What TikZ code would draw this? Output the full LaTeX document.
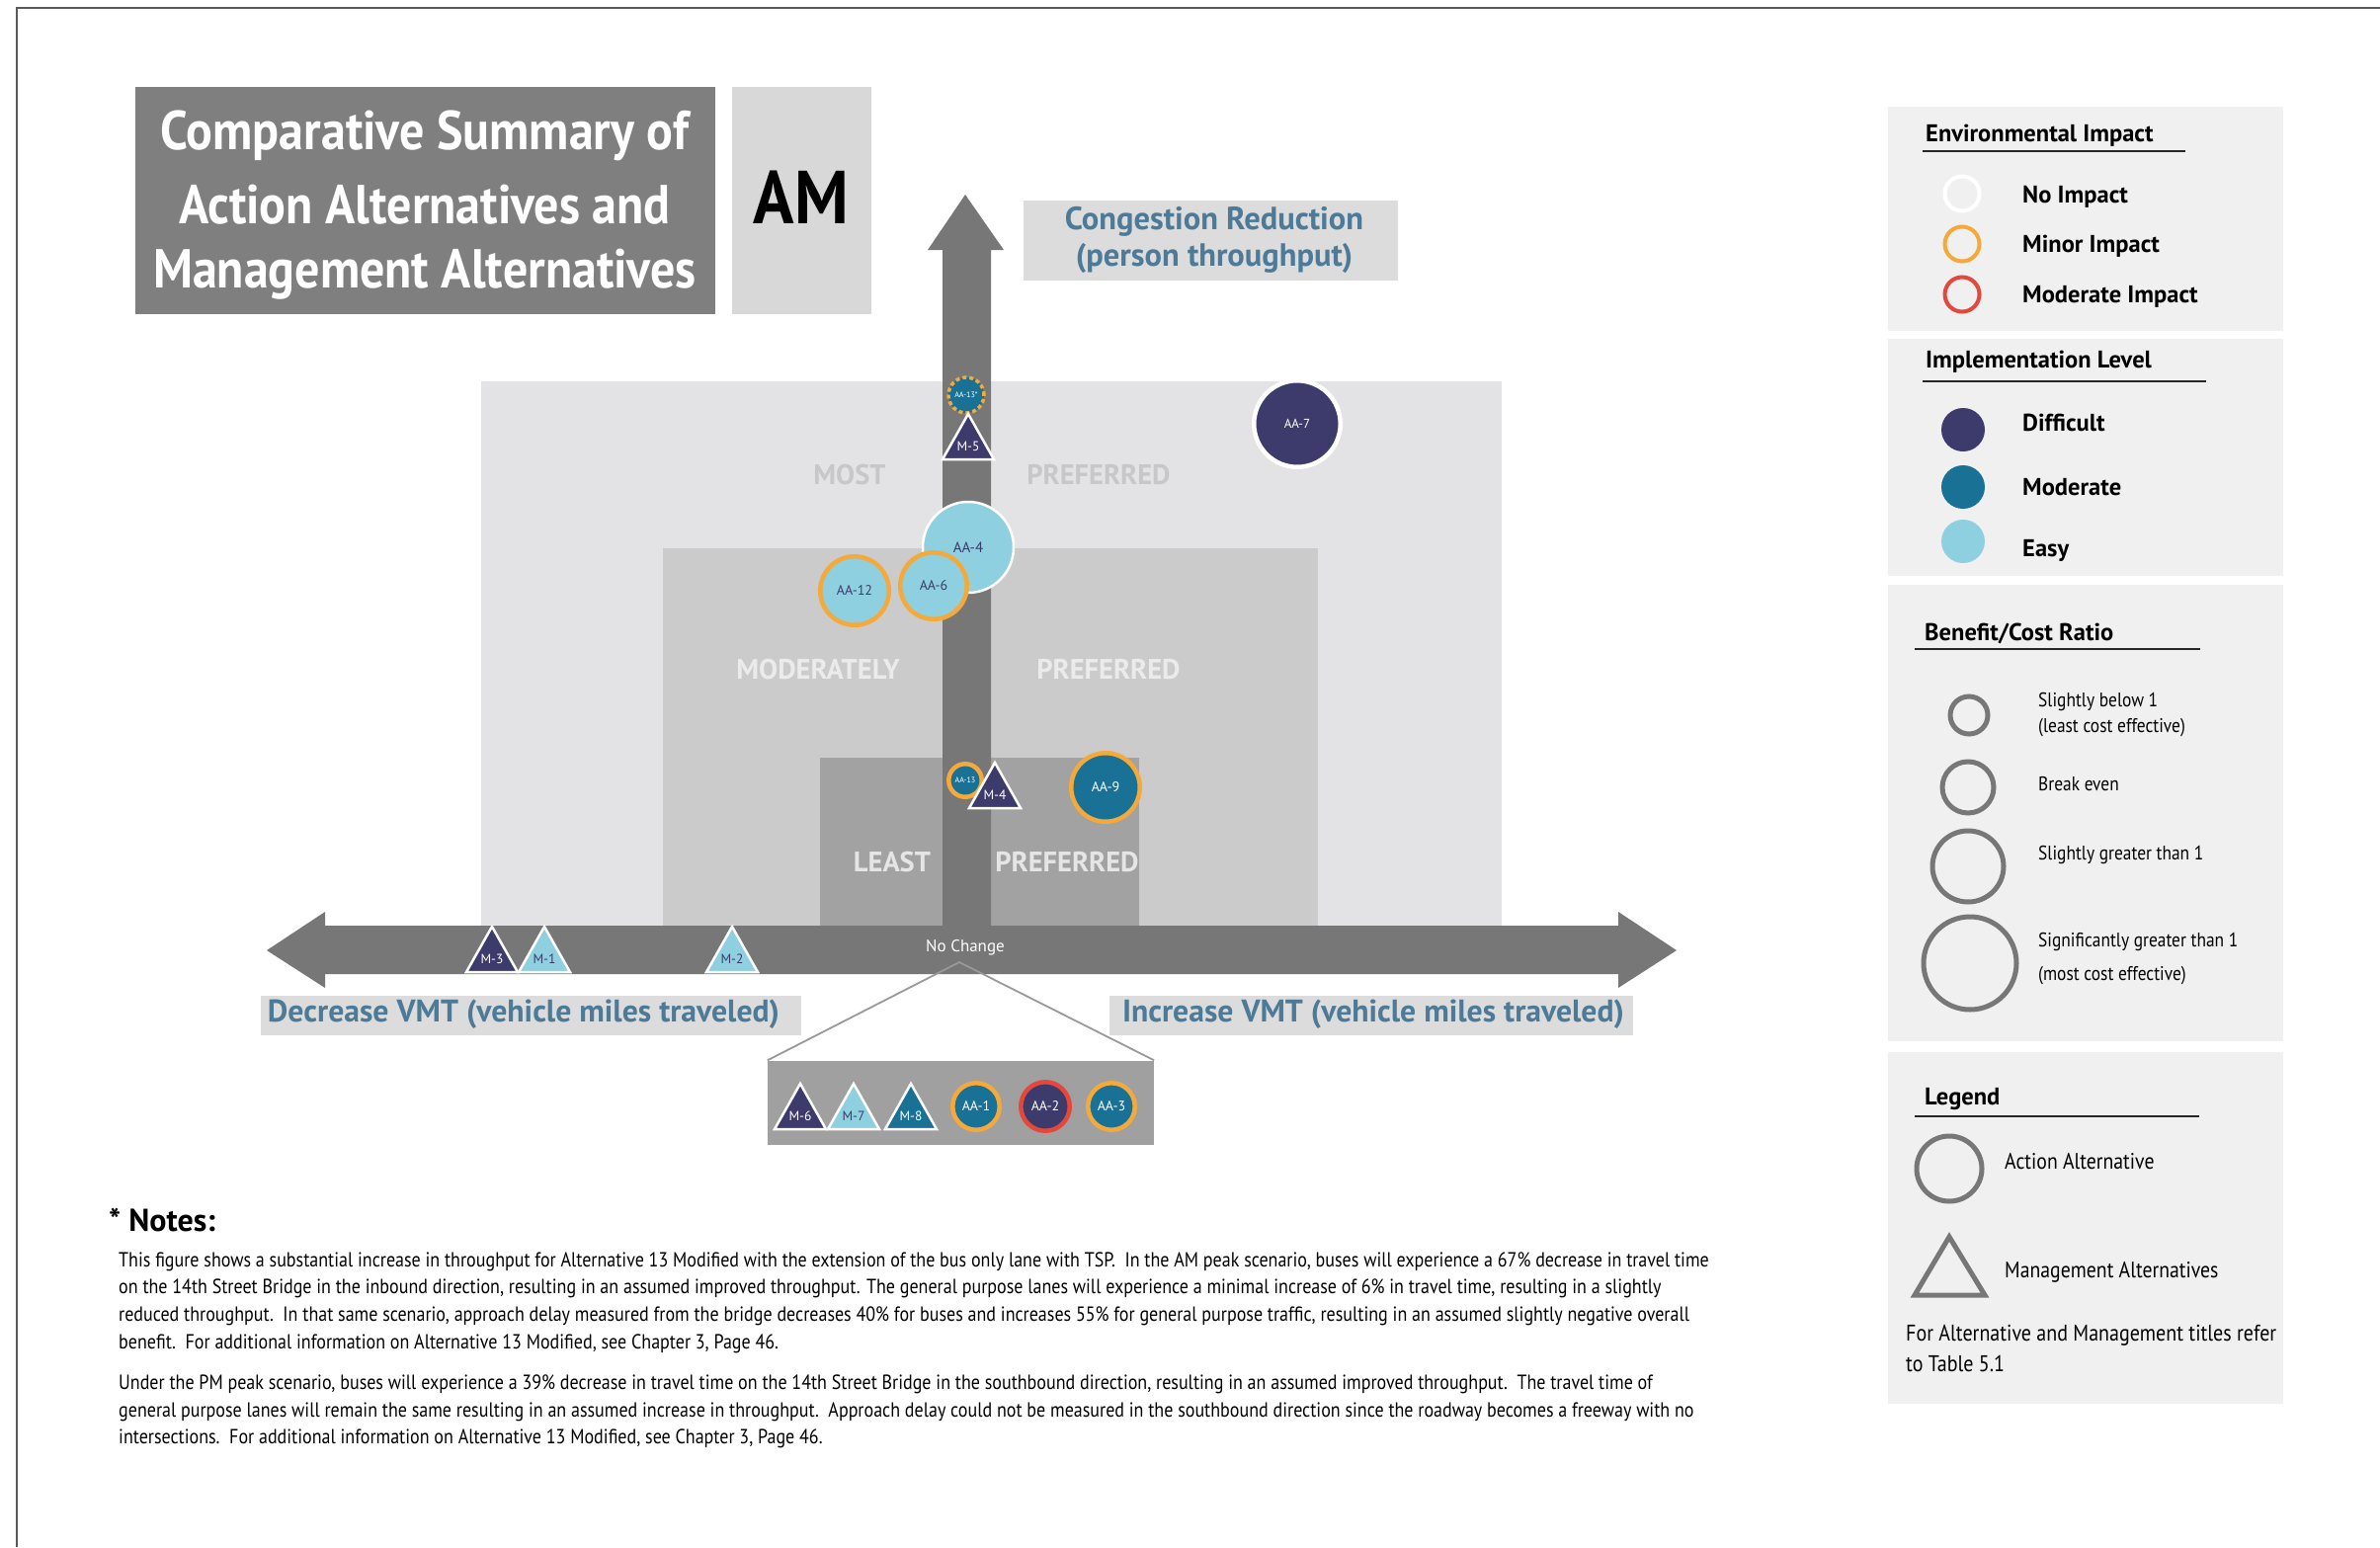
\documentclass[tikz,border=0pt]{standalone}
\usepackage{fontspec}
\setmainfont{PT Sans}[BoldFont={PT Sans Bold}]
\newfontfamily\cond[FakeStretch=0.87, BoldFont={PT Sans Bold}]{PT Sans}
\newfontfamily\ttl[FakeStretch=0.9, BoldFont={PT Sans Bold}]{PT Sans}
\definecolor{cNavy}{HTML}{3C3B6C}
\definecolor{cTeal}{HTML}{1A7196}
\definecolor{cEasy}{HTML}{8FD0E0}
\definecolor{cOrange}{HTML}{F4A93A}
\definecolor{cRed}{HTML}{E5483B}
\definecolor{cArrow}{HTML}{777777}
\definecolor{cLab}{HTML}{4D7A97}
\definecolor{cTitle}{HTML}{7F7F7F}
\definecolor{cAM}{HTML}{D8D8D8}
\definecolor{cLabBox}{HTML}{DCDCDC}
\definecolor{cPanel}{HTML}{F0F0F0}
\definecolor{cOuter}{HTML}{E3E3E5}
\definecolor{cMid}{HTML}{CBCBCB}
\definecolor{cInner}{HTML}{A2A2A2}
\definecolor{cInset}{HTML}{A0A0A0}
\definecolor{cRing}{HTML}{777777}
\newcommand\fs[1]{\fontsize{#1}{#1}\selectfont}
% circle marker: name, x, y, r, fill, draw, textcolor, label, fontsize
\newcommand\aac[9]{\node[circle, inner sep=0pt, minimum size={2*#4-4.5}, fill=#5, draw=#6, line width=4.5pt, text=#7, font=\fs{#9}] (#1) at (#2,#3) {#8};}
% triangle marker: name, x, base y, fill, textcolor, label
\newcommand\mtri[6]{\filldraw[fill=#4, draw=white, line width=2.5pt, line join=miter] (#2-26,#3) -- (#2,#3-46) -- (#2+26,#3) -- cycle;
\node[inner sep=0pt, text=#5, font=\fs{13.5}] (#1) at (#2,#3-13) {#6};}
\begin{document}
\begin{tikzpicture}[x=1pt,y=-1pt,
  hdr/.style={anchor=west, inner sep=0pt, font=\bfseries\fs{24.5}},
  ltxt/.style={anchor=west, inner sep=0pt, font=\bfseries\fs{24.5}},
  ctxt/.style={anchor=west, inner sep=0pt, font=\cond\fs{20}},
  note/.style={anchor=west, inner sep=0pt, font=\cond\fs{20.7}},
  zone/.style={inner sep=0pt, font=\bfseries\fs{28.5}},
  axlab/.style={inner sep=0pt, text=cLab, font=\bfseries\fontsize{32.5}{37}\selectfont, align=center},
  uline/.style={line width=2pt, draw=black!85}]
\useasboundingbox (0,0) rectangle (2409,1566);
\fill[white] (0,0) rectangle (2409,1566);
\draw[line width=2.5pt, draw=black!65] (2409,8) -- (17,8) -- (17,1566);

% title
\fill[cTitle] (137,88) rectangle (724,318);
\node[inner sep=0pt, text=white, font=\ttl\bfseries\fs{55.5}] (t1) at (430,137) {Comparative Summary of};
\node[inner sep=0pt, text=white, font=\ttl\bfseries\fs{55.5}] (t2) at (430,207) {Action Alternatives and};
\node[inner sep=0pt, text=white, font=\ttl\bfseries\fs{55.5}] (t3) at (430,278) {Management Alternatives};
\fill[cAM] (741,88) rectangle (882,318);
\node[inner sep=0pt, font=\ttl\bfseries\fs{76}] (am) at (811,200) {AM};

% zones
\fill[cOuter] (487,386) rectangle (1520,937);
\fill[cMid] (671,555) rectangle (1334,937);
\fill[cInner] (830,767) rectangle (1153,937);
\node[zone, text=black!22] (z1a) at (860,481) {MOST};
\node[zone, text=black!22] (z1b) at (1112,481) {PREFERRED};
\node[zone, text=black!8] (z2a) at (828,678) {MODERATELY};
\node[zone, text=black!8] (z2b) at (1122,678) {PREFERRED};
\node[zone, text=black!10] (z3a) at (903,873) {LEAST};
\node[zone, text=black!10] (z3b) at (1080,873) {PREFERRED};

% arrows
\fill[cArrow] (954,937) -- (954,253) -- (939,253) -- (977,197) -- (1016,253) -- (1003,253) -- (1003,937) -- cycle;
\fill[cArrow] (270,962) -- (329,923) -- (329,937) -- (1638,937) -- (1638,923) -- (1697,962) -- (1638,1000) -- (1638,986) -- (329,986) -- (329,1000) -- cycle;
\node[inner sep=0pt, text=white, font=\fs{17}] (nochange) at (977,959) {No Change};
\coordinate (ncp) at (971,974);

% axis labels
\fill[cLabBox] (1036,203) rectangle (1415,284);
\node[axlab] (cong) at (1229,243) {Congestion Reduction\\(person throughput)};
\fill[cLabBox] (264,1008) rectangle (811,1048);
\node[axlab, font=\bfseries\fs{31.7}] (dec) at (530,1027) {Decrease VMT (vehicle miles traveled)};
\fill[cLabBox] (1123,1008) rectangle (1653,1048);
\node[axlab, font=\bfseries\fs{31.7}] (inc) at (1390,1027) {Increase VMT (vehicle miles traveled)};

% inset
\node[inner sep=0pt, fill=cInset, minimum width=391pt, minimum height=85pt] (inset) at (972.5,1116) {};
\draw[line width=1.8pt, draw=black!40] (inset.north west) -- (ncp) -- (inset.north east);
\mtri{m6}{810}{1143}{cNavy}{white}{M-6}
\mtri{m7}{864}{1143}{cEasy}{cNavy}{M-7}
\mtri{m8}{922}{1143}{cTeal}{white}{M-8}
\aac{aa1}{988}{1120}{26}{cTeal}{cOrange}{white}{AA-1}{14}
\aac{aa2}{1058}{1120}{27}{cNavy}{cRed}{white}{AA-2}{14}
\aac{aa3}{1125}{1120}{26}{cTeal}{cOrange}{white}{AA-3}{14}

% axis triangles
\mtri{m3}{498}{984}{cNavy}{white}{M-3}
\mtri{m1}{551}{984}{cEasy}{cNavy}{M-1}
\mtri{m2}{741}{984}{cEasy}{cNavy}{M-2}

% chart markers
\node[circle, inner sep=0pt, minimum size=36pt, fill=cTeal, draw=cOrange, line width=3.5pt, dash pattern=on 4pt off 3pt, text=white, font=\fs{8}] (aa13s) at (978,400) {AA-13*};
\mtri{m5}{980}{465}{cNavy}{white}{M-5}
\aac{aa7}{1313}{429}{46}{cNavy}{white}{white}{AA-7}{13}
\node[circle, inner sep=0pt, minimum size=92pt, fill=cEasy, draw=white, line width=2.5pt, text=cNavy, font=\fs{15}] (aa4) at (980,554) {AA-4};
\aac{aa12}{865}{598}{37}{cEasy}{cOrange}{cNavy}{AA-12}{14}
\aac{aa6}{945}{593}{36}{cEasy}{cOrange}{cNavy}{AA-6}{14}
\aac{aa13}{977}{790}{19}{cTeal}{cOrange}{white}{AA-13}{8}
\mtri{m4}{1007}{818}{cNavy}{white}{M-4}
\aac{aa9}{1119}{797}{37}{cTeal}{cOrange}{white}{AA-9}{14}

% legend panel 1
\fill[cPanel] (1911,108) rectangle (2311,335);
\node[hdr] (h1) at (1949,137) {Environmental Impact};
\draw[uline] (1946,153) -- (2212,153);
\node[circle, inner sep=0pt, minimum size=35pt, draw=white, line width=4pt] (e1) at (1986,196) {};
\node[circle, inner sep=0pt, minimum size=35pt, draw=cOrange, line width=4pt] (e2) at (1986,247) {};
\node[circle, inner sep=0pt, minimum size=35pt, draw=cRed, line width=4pt] (e3) at (1986,298) {};
\node[ltxt] (e1t) at (2047,199) {No Impact};
\node[ltxt] (e2t) at (2047,249) {Minor Impact};
\node[ltxt] (e3t) at (2047,300) {Moderate Impact};

% legend panel 2
\fill[cPanel] (1911,343) rectangle (2311,583);
\node[hdr] (h2) at (1949,366) {Implementation Level};
\draw[uline] (1946,386) -- (2233,386);
\node[circle, inner sep=0pt, minimum size=44pt, fill=cNavy] (i1) at (1987,435) {};
\node[circle, inner sep=0pt, minimum size=44pt, fill=cTeal] (i2) at (1987,493) {};
\node[circle, inner sep=0pt, minimum size=44pt, fill=cEasy] (i3) at (1987,548) {};
\node[ltxt] (i1t) at (2047,428) {Difficult};
\node[ltxt] (i2t) at (2047,493) {Moderate};
\node[ltxt] (i3t) at (2047,557) {Easy};

% legend panel 3
\fill[cPanel] (1911,592) rectangle (2311,1054);
\node[hdr] (h3) at (1948,641) {Benefit/Cost Ratio};
\draw[uline] (1938,657) -- (2227,657);
\node[circle, inner sep=0pt, minimum size=38pt, draw=cRing, line width=5pt] (b1) at (1993,724) {};
\node[circle, inner sep=0pt, minimum size=52pt, draw=cRing, line width=5pt] (b2) at (1992,797) {};
\node[circle, inner sep=0pt, minimum size=72pt, draw=cRing, line width=5pt] (b3) at (1992,877) {};
\node[circle, inner sep=0pt, minimum size=94pt, draw=cRing, line width=5pt] (b4) at (1994,975) {};
\node[ctxt] (b1t) at (2063,710) {Slightly below 1};
\node[ctxt] (b1u) at (2063,737) {(least cost effective)};
\node[ctxt] (b2t) at (2063,794) {Break even};
\node[ctxt] (b3t) at (2063,865) {Slightly greater than 1};
\node[ctxt] (b4t) at (2063,953) {Significantly greater than 1};
\node[ctxt] (b4u) at (2063,988) {(most cost effective)};

% legend panel 4
\fill[cPanel] (1911,1065) rectangle (2311,1421);
\node[hdr] (h4) at (1948,1113) {Legend};
\draw[uline] (1938,1130) -- (2226,1130);
\node[circle, inner sep=0pt, minimum size=66pt, draw=cRing, line width=5pt] (lg1) at (1973,1183) {};
\draw[draw=cRing, line width=5pt, line join=miter] (1938,1311) -- (1973,1252) -- (2009,1311) -- cycle;
\node[ctxt, font=\cond\fs{22.7}] (lg1t) at (2029,1176) {Action Alternative};
\node[ctxt, font=\cond\fs{22.7}] (lg2t) at (2029,1288) {Management Alternatives};
\node[ctxt, font=\cond\fs{23}] (lg3t) at (1929,1352) {For Alternative and Management titles refer};
\node[ctxt, font=\cond\fs{23}] (lg4t) at (1929,1380) {to Table 5.1};

% notes
\node[anchor=west, inner sep=0pt, font=\bfseries\fs{32}] (notes) at (110,1235) {* Notes:};
\node[note] (n1) at (120,1277) {This figure shows a substantial increase in throughput for Alternative 13 Modified with the extension of the bus only lane with TSP.\ \ In the AM peak scenario, buses will experience a 67\% decrease in travel time};
\node[note] (n2) at (120,1304) {on the 14th Street Bridge in the inbound direction, resulting in an assumed improved throughput. The general purpose lanes will experience a minimal increase of 6\% in travel time, resulting in a slightly};
\node[note] (n3) at (120,1332) {reduced throughput.\ \ In that same scenario, approach delay measured from the bridge decreases 40\% for buses and increases 55\% for general purpose traffic, resulting in an assumed slightly negative overall};
\node[note] (n4) at (120,1360) {benefit.\ \ For additional information on Alternative 13 Modified, see Chapter 3, Page 46.};
\node[note] (n5) at (120,1401) {Under the PM peak scenario, buses will experience a 39\% decrease in travel time on the 14th Street Bridge in the southbound direction, resulting in an assumed improved throughput.\ \ The travel time of};
\node[note] (n6) at (120,1429) {general purpose lanes will remain the same resulting in an assumed increase in throughput.\ \ Approach delay could not be measured in the southbound direction since the roadway becomes a freeway with no};
\node[note] (n7) at (120,1456) {intersections.\ \ For additional information on Alternative 13 Modified, see Chapter 3, Page 46.};
\end{tikzpicture}
\end{document}
